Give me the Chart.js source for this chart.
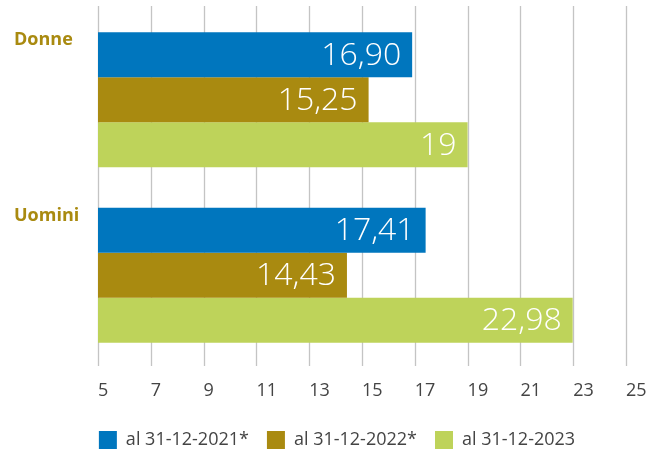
<!DOCTYPE html>
<html>
<head>
<meta charset="utf-8">
<script src="https://cdn.jsdelivr.net/npm/chart.js@4"></script>
<style>
  html, body { margin: 0; padding: 0; background: #fff; }
  #wrap { width: 662px; height: 452px; }
</style>
</head>
<body>
<div id="wrap"><canvas id="barChart"></canvas></div>
<script>
const categories = ["Donne", "Uomini"];
const seriesNames = ["al 31-12-2021*", "al 31-12-2022*", "al 31-12-2023"];
const values2021 = [16.90, 17.41];
const values2022 = [15.25, 14.43];
const values2023 = [19, 22.98];
const colors = ["#0076be", "#a98a10", "#bed35a"];
const xTicks = [5, 7, 9, 11, 13, 15, 17, 19, 21, 23, 25];

const font = "'Open Sans', 'Noto Sans', sans-serif";

function fmt(v) {
  return Number.isInteger(v) ? String(v) : v.toFixed(2).replace(".", ",");
}

// vertical grid lines, drawn behind the bars and a bit taller than the plot
const gridLines = {
  id: "gridLines",
  beforeDatasetsDraw(chart) {
    const ctx = chart.ctx;
    const x = chart.scales.x;
    const area = chart.chartArea;
    ctx.save();
    ctx.strokeStyle = "#c4c4c4";
    ctx.lineWidth = 1.3;
    xTicks.forEach(t => {
      const px = Math.round(x.getPixelForValue(t)) + 0.5;
      ctx.beginPath();
      ctx.moveTo(px, area.top - 6);
      ctx.lineTo(px, area.bottom + 3);
      ctx.stroke();
    });
    ctx.restore();
  }
};

// value inside the end of each bar
const barValues = {
  id: "barValues",
  afterDatasetsDraw(chart) {
    const ctx = chart.ctx;
    ctx.save();
    ctx.fillStyle = "#ffffff";
    ctx.font = "300 32px " + font;
    ctx.textAlign = "right";
    ctx.textBaseline = "middle";
    chart.data.datasets.forEach((ds, di) => {
      chart.getDatasetMeta(di).data.forEach((bar, i) => {
        ctx.fillText(fmt(ds.data[i]), bar.x - 11, bar.y + 1);
      });
    });
    ctx.restore();
  }
};

// category names at the top left of each group
const groupLabels = {
  id: "groupLabels",
  afterDraw(chart) {
    const ctx = chart.ctx;
    const first = chart.getDatasetMeta(0).data;
    ctx.save();
    ctx.fillStyle = "#a98a10";
    ctx.font = "bold 18px " + font;
    ctx.textAlign = "left";
    ctx.textBaseline = "middle";
    categories.forEach((c, i) => {
      const top = first[i].y - first[i].height / 2;
      ctx.fillText(c, 14, top + 8);
    });
    ctx.restore();
  }
};

new Chart(document.getElementById("barChart"), {
  type: "bar",
  data: {
    labels: categories,
    datasets: [
      { label: seriesNames[0], data: values2021, backgroundColor: colors[0] },
      { label: seriesNames[1], data: values2022, backgroundColor: colors[1] },
      { label: seriesNames[2], data: values2023, backgroundColor: colors[2] },
    ],
  },
  options: {
    indexAxis: "y",
    responsive: true,
    maintainAspectRatio: false,
    animation: false,
    categoryPercentage: 0.77,
    barPercentage: 1.0,
    layout: { padding: { left: 48, right: 36, top: 12, bottom: -7 } },
    scales: {
      x: {
        min: 5,
        max: 25,
        afterBuildTicks(scale) {
          scale.ticks = xTicks.map(v => ({ value: v }));
        },
        afterFit(scale) {
          scale.height = 50;
        },
        grid: { display: false },
        border: { display: false },
        ticks: {
          color: "#444",
          font: { family: font, size: 18 },
          padding: 9,
          align: "start",
          maxRotation: 0,
        },
      },
      y: {
        afterFit(scale) {
          scale.width = 50;
        },
        grid: { display: false },
        border: { display: false },
        ticks: { display: false },
      },
    },
    plugins: {
      legend: {
        position: "bottom",
        labels: {
          color: "#444",
          font: { family: font, size: 18 },
          boxWidth: 18,
          boxHeight: 18,
          padding: 18,
        },
      },
      tooltip: { enabled: false },
    },
  },
  plugins: [gridLines, barValues, groupLabels],
});
</script>
</body>
</html>
